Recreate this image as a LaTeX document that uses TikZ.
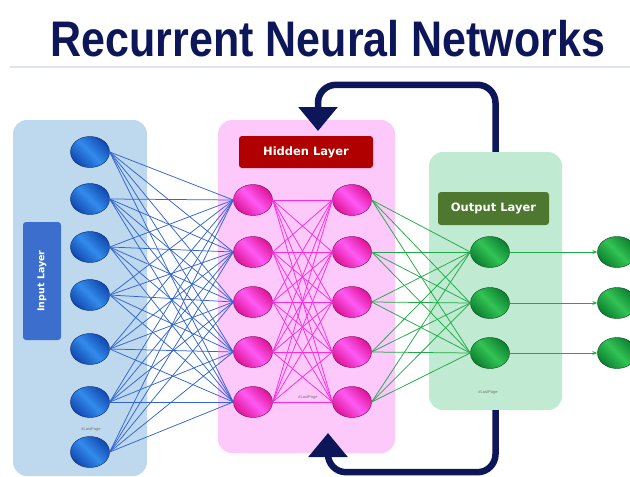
\documentclass[tikz,border=0pt]{standalone}
\usepackage{fontspec}
\setmainfont{Liberation Sans}
\newfontfamily\labelfont{DejaVu Sans}
\usetikzlibrary{shapes.geometric,arrows.meta}
\definecolor{titlenavy}{RGB}{12,22,88}
\definecolor{rulelav}{RGB}{222,226,244}
\definecolor{inbg}{RGB}{190,216,238}
\definecolor{hidbg}{RGB}{253,200,250}
\definecolor{outbg}{RGB}{192,234,210}
\definecolor{intag}{RGB}{60,110,205}
\definecolor{hidtag}{RGB}{176,0,0}
\definecolor{outtag}{RGB}{78,120,48}
\definecolor{nin}{RGB}{18,72,178}
\definecolor{ninhi}{RGB}{50,140,235}
\definecolor{nhid}{RGB}{222,20,150}
\definecolor{nhidhi}{RGB}{255,90,245}
\definecolor{nout}{RGB}{12,128,48}
\definecolor{nouthi}{RGB}{50,195,85}
\definecolor{inline}{RGB}{50,100,210}
\definecolor{hidline}{RGB}{255,40,230}
\definecolor{outline}{RGB}{30,170,70}

\begin{document}
\begin{tikzpicture}[x=1pt,y=-1pt,
  layerbox/.style={rounded corners=14pt, inner sep=0pt},
  tagbox/.style={rounded corners=3pt, text=white, inner sep=0pt,
    font=\labelfont\bfseries\fontsize{11.5}{11.5}\selectfont},
  neuron/.style={ellipse, minimum width=39pt, minimum height=31pt, inner sep=0pt,
    draw=#1!55!black, thin, top color=#1, bottom color=#1, middle color=#1hi,
    shading angle=135},
  note/.style={font=\fontsize{4}{4}\selectfont, text=black!55},
  inlink/.style={draw=inline, line width=0.75pt},
  hidlink/.style={draw=hidline, line width=0.75pt},
  outlink/.style={draw=outline, line width=0.75pt},
  outarrow/.style={draw=outline, line width=0.9pt, -{Stealth[length=5pt,width=4pt]}},
  feedback/.style={draw=titlenavy, line width=6.5pt, rounded corners=18pt,
    -{Triangle[width=38pt,length=24pt]}}]
\clip (0,0) rectangle (630,477);

% title
\node[anchor=base, inner sep=0pt, xscale=0.86, text=titlenavy,
  font=\bfseries\fontsize{50}{50}\selectfont] (title) at (328,56) {Recurrent Neural Networks};
\draw[rulelav, line width=2pt] (10,67) -- (630,67);

% layer boxes
\node[layerbox, fill=inbg, minimum width=134pt, minimum height=356pt] (inbox) at (80,298) {};
\node[layerbox, fill=hidbg, minimum width=177pt, minimum height=333pt] (hidbox) at (306.5,286.5) {};
\node[layerbox, fill=outbg, minimum width=133pt, minimum height=258pt] (outbox) at (495.5,281) {};

% neurons
\foreach \y [count=\i] in {152,199,247,295,349,402,452}
  \node[neuron=nin] (in\i) at (90,\y) {};
\foreach \y [count=\i] in {200,252,302,352,402} {
  \node[neuron=nhid] (hA\i) at (253,\y) {};
  \node[neuron=nhid] (hB\i) at (352,\y) {};
}
\foreach \y [count=\i] in {252,303,353} {
  \node[neuron=nout] (out\i) at (490,\y) {};
  \node[neuron=nout] (res\i) at (617,\y) {};
}

% links
\foreach \i in {1,...,7}
  \foreach \j in {1,...,5}
    \draw[inlink] (in\i.east) -- (hA\j.west);
\foreach \i in {1,...,5}
  \foreach \j in {1,...,5}
    \draw[hidlink] (hA\i.east) -- (hB\j.west);
\foreach \i in {1,...,5}
  \foreach \j in {1,...,3}
    \draw[outlink] (hB\i.east) -- (out\j.west);
\foreach \i in {1,2,3}
  \draw[outarrow] (out\i) -- (res\i);

% layer tags
\node[tagbox, fill=intag, minimum width=38pt, minimum height=118pt] (intag) at (42,281) {};
\node[text=white, rotate=90, font=\labelfont\bfseries\fontsize{9.5}{9.5}\selectfont] at (intag) {Input Layer};
\node[tagbox, fill=hidtag, minimum width=134pt, minimum height=32pt] (hidtag) at (306,152) {Hidden Layer};
\node[tagbox, fill=outtag, minimum width=111pt, minimum height=33pt] (outtag) at (493.5,208.5) {Output Layer};

\node[note] (note1) at (91,430) {\#LastPage};
\node[note] (note2) at (308,398) {\#LastPage};
\node[note] (note3) at (488,393) {\#LastPage};

% recurrent loop
\coordinate (fbtop) at (318,131);
\coordinate (fbbot) at (328,433);
\draw[feedback] (outbox.north) -- ++(0,-67) -| (fbtop);
\draw[feedback] (outbox.south) -- ++(0,62) -| (fbbot);
\end{tikzpicture}
\end{document}
